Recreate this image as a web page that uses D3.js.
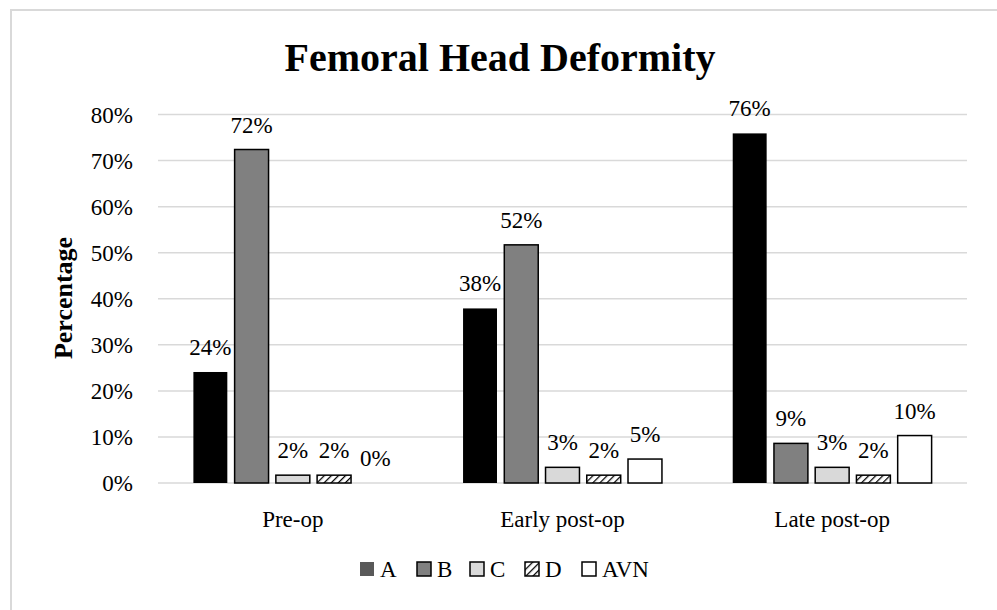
<!DOCTYPE html>
<html>
<head>
<meta charset="utf-8">
<script src="https://cdn.jsdelivr.net/npm/d3@7"></script>
<style>
  body { margin: 0; background: #fff; }
  text { font-family: "Palatino Linotype", "Book Antiqua", Palatino, "Liberation Serif", serif; fill: #000; }
</style>
</head>
<body>
<div id="canvas"></div>
<script>
"use strict";

/* Configuration variables: drawing */
let svgWidth = 997;
let svgHeight = 610;
let plotLeft = 158;
let plotRight = 967;
let plotTop = 114.5;
let plotBottom = 483;

/* Data: share of hips per deformity class (n = 58) */
let stages = ["Pre-op", "Early post-op", "Late post-op"];
let classes = ["A", "B", "C", "D", "AVN"];
let valuesA = [0.241, 0.379, 0.759];
let valuesB = [0.724, 0.517, 0.086];
let valuesC = [0.017, 0.034, 0.034];
let valuesD = [0.017, 0.017, 0.017];
let valuesAVN = [0, 0.052, 0.103];
let yTicks = [0, 0.1, 0.2, 0.3, 0.4, 0.5, 0.6, 0.7, 0.8];

let seriesValues = [valuesA, valuesB, valuesC, valuesD, valuesAVN];

let svg = d3.select("#canvas")
  .append("svg")
  .attr("width", svgWidth)
  .attr("height", svgHeight);

// hatch for class D
let defs = svg.append("defs");
let hatch = defs.append("pattern")
  .attr("id", "hatch")
  .attr("patternUnits", "userSpaceOnUse")
  .attr("width", 5)
  .attr("height", 5)
  .attr("patternTransform", "rotate(45)");
hatch.append("rect").attr("width", 5).attr("height", 5).attr("fill", "#fff");
hatch.append("line")
  .attr("x1", 0).attr("y1", 0).attr("x2", 0).attr("y2", 5)
  .attr("stroke", "#000").attr("stroke-width", 2.5);

let fills = { A: "#000", B: "#808080", C: "#d9d9d9", D: "url(#hatch)", AVN: "#fff" };
let strokes = { A: "none", B: "#000", C: "#000", D: "#000", AVN: "#000" };

// outer frame
svg.append("rect")
  .attr("x", 11)
  .attr("y", 10)
  .attr("width", 1000)
  .attr("height", 620)
  .attr("fill", "none")
  .attr("stroke", "#d9d9d9")
  .attr("stroke-width", 2);

/* Scales */
let x0 = d3.scaleBand()
  .domain(stages)
  .range([plotLeft, plotRight]);

let x1 = d3.scaleBand()
  .domain(classes)
  .range([0, x0.bandwidth()])
  .paddingInner(0.177)
  .paddingOuter(0.858);

let yScale = d3.scaleLinear()
  .domain([0, 0.8])
  .range([plotBottom, plotTop]);

/* Gridlines and y tick labels */
svg.append("g")
  .selectAll("line")
  .data(yTicks)
  .join("line")
  .attr("x1", plotLeft)
  .attr("x2", plotRight)
  .attr("y1", d => yScale(d))
  .attr("y2", d => yScale(d))
  .attr("stroke", "#d9d9d9")
  .attr("stroke-width", 1.5);

svg.append("g")
  .selectAll("text")
  .data(yTicks)
  .join("text")
  .attr("x", 133)
  .attr("y", d => yScale(d))
  .attr("dy", "0.35em")
  .attr("text-anchor", "end")
  .style("font-size", "23px")
  .text(d3.format(".0%"));

/* Bars */
let flat = [];
stages.forEach((s, i) => {
  classes.forEach((c, j) => {
    flat.push({ stage: s, cls: c, value: seriesValues[j][i] });
  });
});

let bars = svg.append("g");
bars.selectAll("rect")
  .data(flat)
  .join("rect")
  .attr("x", d => x0(d.stage) + x1(d.cls))
  .attr("y", d => yScale(d.value))
  .attr("width", x1.bandwidth())
  .attr("height", d => plotBottom - yScale(d.value))
  .attr("fill", d => fills[d.cls])
  .attr("stroke", d => strokes[d.cls])
  .attr("stroke-width", d => d.value > 0 ? 1.5 : 0);

/* Data labels */
svg.append("g")
  .selectAll("text")
  .data(flat)
  .join("text")
  .attr("x", d => x0(d.stage) + x1(d.cls) + x1.bandwidth() / 2)
  .attr("y", d => yScale(d.value) - 17)
  .attr("text-anchor", "middle")
  .style("font-size", "23px")
  .text(d => d3.format(".0%")(d.value));

/* Category labels */
svg.append("g")
  .selectAll("text")
  .data(stages)
  .join("text")
  .attr("x", d => x0(d) + x0.bandwidth() / 2)
  .attr("y", 527)
  .attr("text-anchor", "middle")
  .style("font-size", "23px")
  .text(d => d);

/* Title */
svg.append("text")
  .attr("x", 500)
  .attr("y", 71)
  .attr("text-anchor", "middle")
  .style("font-size", "40px")
  .style("font-weight", "bold")
  .text("Femoral Head Deformity");

/* Y axis title */
svg.append("text")
  .attr("transform", "translate(72,298) rotate(-90)")
  .attr("text-anchor", "middle")
  .style("font-size", "26px")
  .style("font-weight", "bold")
  .text("Percentage");

/* Legend */
let legendX = [360, 417, 470, 525, 582];
let legend = svg.append("g")
  .selectAll("g")
  .data(classes)
  .join("g")
  .attr("transform", (d, i) => `translate(${legendX[i]},569)`);

legend.append("rect")
  .attr("x", 0)
  .attr("y", -7)
  .attr("width", 14)
  .attr("height", 14)
  .attr("fill", d => d === "A" ? "#595959" : fills[d])
  .attr("stroke", d => strokes[d])
  .attr("stroke-width", 1.5);

legend.append("text")
  .attr("x", 20)
  .attr("y", 0)
  .attr("dy", "0.35em")
  .style("font-size", "23px")
  .text(d => d);
</script>
</body>
</html>
